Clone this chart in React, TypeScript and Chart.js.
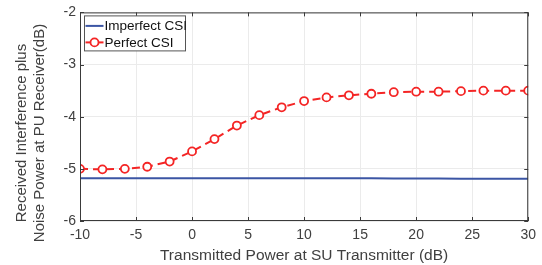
import React, { useEffect, useRef } from "react";
import { Chart, registerables } from "chart.js";
Chart.register(...registerables);

const xValues = [-10, -8, -6, -4, -2, 0, 2, 4, 6, 8, 10, 12, 14, 16, 18, 20, 22, 24, 26, 28, 30];
const imperfectCSI = [-5.18, -5.18, -5.18, -5.18, -5.18, -5.18, -5.18, -5.18, -5.18, -5.18, -5.18, -5.18, -5.18, -5.18, -5.185, -5.185, -5.185, -5.19, -5.19, -5.19, -5.19];
const perfectCSI = [-5.0, -5.01, -5.0, -4.96, -4.86, -4.665, -4.43, -4.17, -3.97, -3.82, -3.7, -3.63, -3.59, -3.56, -3.53, -3.52, -3.52, -3.51, -3.5, -3.5, -3.5];
const xTicks = [-10, -5, 0, 5, 10, 15, 20, 25, 30];
const yTicks = [-6, -5, -4, -3, -2];
const seriesNames = ["Imperfect CSI", "Perfect CSI"];
const xTitle = "Transmitted Power at SU Transmitter (dB)";
const yTitle = ["Received Interference plus", "Noise Power at PU Receiver(dB)"];

const BLUE = "#3b55a4";
const RED = "#f42525";
const TEXT = "#404040";
const FONT = "'Liberation Sans', Arial, sans-serif";

const framePlugin = {
  id: "frame",
  afterDatasetsDraw(chart: any) {
    const { ctx, chartArea: a, scales } = chart;
    ctx.save();
    ctx.strokeStyle = "#3a3a3a";
    ctx.lineWidth = 1;
    ctx.strokeRect(a.left + 0.5, a.top + 0.5, a.right - a.left - 1, a.bottom - a.top - 1);
    ctx.beginPath();
    for (const t of xTicks) {
      const x = Math.round(scales.x.getPixelForValue(t)) + 0.5;
      ctx.moveTo(x, a.bottom);
      ctx.lineTo(x, a.bottom - 4);
      ctx.moveTo(x, a.top);
      ctx.lineTo(x, a.top + 4);
    }
    for (const t of yTicks) {
      const y = Math.round(scales.y.getPixelForValue(t)) + 0.5;
      ctx.moveTo(a.left, y);
      ctx.lineTo(a.left + 4, y);
      ctx.moveTo(a.right, y);
      ctx.lineTo(a.right - 4, y);
    }
    ctx.stroke();

    // y-axis title (two lines, rotated)
    ctx.save();
    ctx.translate(0, 133);
    ctx.rotate(-Math.PI / 2);
    ctx.font = `15px ${FONT}`;
    ctx.fillStyle = TEXT;
    ctx.textAlign = "center";
    ctx.textBaseline = "middle";
    ctx.fillText(yTitle[0], 0, 22);
    ctx.fillText(yTitle[1], 0, 40);
    ctx.restore();

    const lx = a.left + 4.5;
    const ly = a.top + 3.5;
    const lw = 101;
    const lh = 35;
    ctx.fillStyle = "#ffffff";
    ctx.fillRect(lx, ly, lw, lh);
    ctx.strokeStyle = "#555555";
    ctx.strokeRect(lx, ly, lw, lh);
    ctx.font = `13.5px ${FONT}`;
    ctx.textBaseline = "middle";
    ctx.textAlign = "left";
    const rows = [ly + 10, ly + 26.5];
    chart.data.datasets.forEach((ds: any, i: number) => {
      const y = rows[i];
      ctx.strokeStyle = ds.borderColor;
      ctx.lineWidth = 2;
      ctx.setLineDash([]);
      ctx.beginPath();
      ctx.moveTo(lx + 1, y);
      ctx.lineTo(lx + 19, y);
      ctx.stroke();
      if (ds.pointRadius > 0) {
        ctx.lineWidth = 1.8;
        ctx.beginPath();
        ctx.arc(lx + 10, y, 4, 0, Math.PI * 2);
        ctx.fillStyle = "#fff";
        ctx.fill();
        ctx.stroke();
      }
      ctx.fillStyle = "#111";
      ctx.fillText(ds.label, lx + 20, y + 0.5);
    });
    ctx.restore();
  },
};

export default function App() {
  const ref = useRef<HTMLCanvasElement>(null);
  useEffect(() => {
    const chart = new Chart(ref.current!, {
      type: "line",
      data: {
        labels: xValues,
        datasets: [
          {
            label: seriesNames[0],
            data: xValues.map((x, i) => ({ x, y: imperfectCSI[i] })),
            borderColor: BLUE,
            borderWidth: 2,
            pointRadius: 0,
            tension: 0,
          },
          {
            label: seriesNames[1],
            data: xValues.map((x, i) => ({ x, y: perfectCSI[i] })),
            borderColor: RED,
            backgroundColor: "#ffffff",
            borderWidth: 2,
            borderDash: [8, 5],
            pointRadius: 4,
            pointBorderWidth: 1.8,
            pointBorderColor: RED,
            pointBackgroundColor: "#ffffff",
            tension: 0,
          },
        ],
      },
      options: {
        animation: false,
        responsive: false,
        layout: { padding: { top: 9, right: 13, left: 0, bottom: 0 } },
        plugins: { legend: { display: false }, tooltip: { enabled: false } },
        scales: {
          x: {
            type: "linear",
            min: -10,
            max: 30,
            afterBuildTicks: (s: any) => {
              s.ticks = xTicks.map((v) => ({ value: v }));
            },
            afterFit: (s: any) => {
              s.height = 44;
            },
            grid: { color: "#ebebeb", drawTicks: false },
            border: { display: false },
            ticks: { color: TEXT, font: { size: 14, family: FONT }, padding: 6, maxRotation: 0 },
            title: {
              display: true,
              text: xTitle,
              color: TEXT,
              font: { size: 15.5, family: FONT },
              padding: { top: 0, bottom: 0 },
            },
          },
          y: {
            type: "linear",
            min: -6,
            max: -2,
            afterBuildTicks: (s: any) => {
              s.ticks = yTicks.map((v) => ({ value: v }));
            },
            afterFit: (s: any) => {
              s.width = 80;
            },
            grid: { color: "#ebebeb", drawTicks: false },
            border: { display: false },
            ticks: { color: TEXT, font: { size: 14, family: FONT }, padding: 4 },
            title: { display: false },
          },
        },
      },
      plugins: [framePlugin],
    } as any);
    return () => chart.destroy();
  }, []);
  return (
    <div style={{ position: "fixed", left: 0, top: 0, width: 542, height: 265, background: "#fff" }}>
      <canvas ref={ref} width={542} height={265} style={{ display: "block" }} />
    </div>
  );
}
